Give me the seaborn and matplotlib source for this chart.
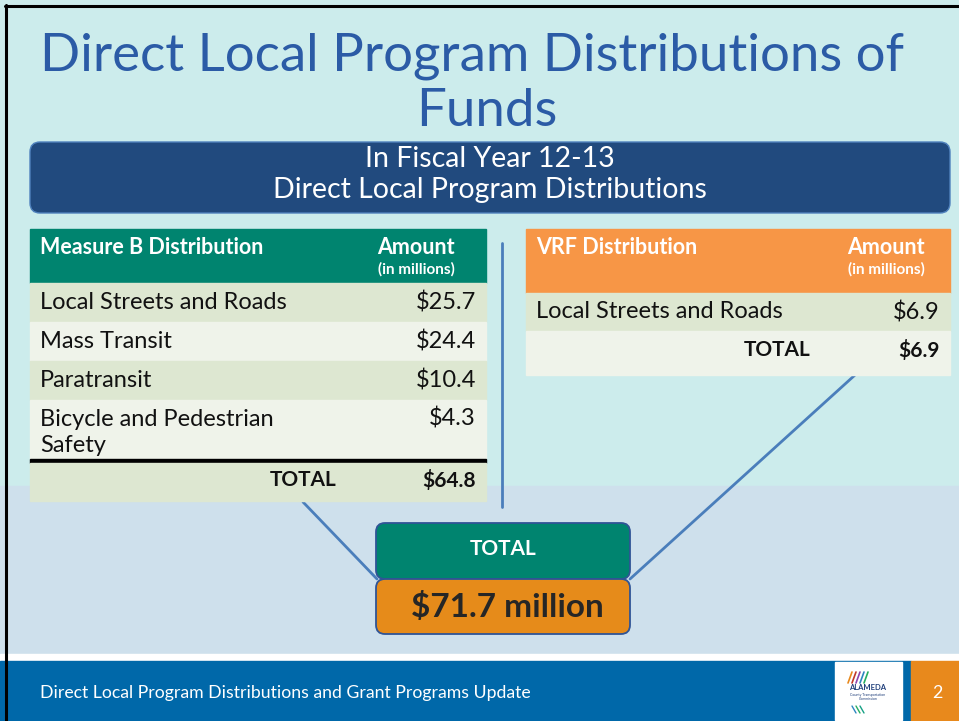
import matplotlib
matplotlib.use("Agg")
import matplotlib.pyplot as plt
import seaborn as sns
from matplotlib.patches import Rectangle, FancyBboxPatch

# slide data
title_lines = ["Direct Local Program Distributions of", "Funds"]
subtitle = ["In Fiscal Year 12-13", "Direct Local Program Distributions"]

mb_items = ["Local Streets and Roads", "Mass Transit", "Paratransit",
            "Bicycle and Pedestrian\nSafety"]
mb_amounts = [25.7, 24.4, 10.4, 4.3]

vrf_items = ["Local Streets and Roads"]
vrf_amounts = [6.9]

footer = "Direct Local Program Distributions and Grant Programs Update"
page_no = "2"

mb_total = sum(mb_amounts)
vrf_total = sum(vrf_amounts)
grand_total = mb_total + vrf_total

sns.set_theme(style="white")
plt.rcParams["font.family"] = ["Lato", "DejaVu Sans"]

TEAL = "#00846F"
ORANGE = "#F79646"
ROW_A = "#DDE7D1"
ROW_B = "#EFF3EA"
LINE = "#4A7EBB"
INK = "#111111"

fig = plt.figure(figsize=(9.59, 7.21), dpi=100)
ax = fig.add_axes([0, 0, 1, 1])
ax.set_xlim(0, 959)
ax.set_ylim(721, 0)
ax.axis("off")

# backgrounds
ax.add_patch(Rectangle((0, 0), 959, 486, color="#CCECEC", zorder=0))
ax.add_patch(Rectangle((0, 486), 959, 168, color="#CEE0EC", zorder=0))
ax.add_patch(Rectangle((0, 654), 959, 7, color="white", zorder=0))
ax.add_patch(Rectangle((0, 661), 911, 60, color="#0068A9", zorder=0))
ax.add_patch(Rectangle((911, 661), 48, 60, color="#E8891C", zorder=0))
ax.plot([6, 6], [5, 721], color="black", lw=2.2, zorder=5)
ax.plot([5, 959], [6, 6], color="black", lw=2.2, zorder=5)

# title
ax.text(472, 56, title_lines[0], ha="center", va="center", fontsize=38,
        color="#2B5BA6")
ax.text(487, 111, title_lines[1], ha="center", va="center", fontsize=38,
        color="#2B5BA6")

# subtitle bar
ax.add_patch(FancyBboxPatch((30, 142), 920, 71,
                            boxstyle="round,pad=0,rounding_size=10",
                            fc="#214A7E", ec="#4F81BD", lw=1, zorder=1))
ax.text(490, 159, subtitle[0], ha="center", va="center", fontsize=20.5,
        color="white")
ax.text(490, 190, subtitle[1], ha="center", va="center", fontsize=20.5,
        color="white")

# connector lines
ax.plot([502, 502], [243, 507], color=LINE, lw=2, zorder=1)
ax.plot([303, 377], [502, 579], color=LINE, lw=2, zorder=1)
ax.plot([630, 855], [579, 375], color=LINE, lw=2, zorder=1)


def fmt(v):
    return f"${v:.1f}"


def header(x0, x1, h, label, amt_x, color):
    ax.add_patch(Rectangle((x0, 229), x1 - x0, h, color=color, zorder=2))
    ax.text(x0 + 10, 248, label, ha="left", va="center",
            fontsize=15.5, fontweight="bold", color="white", zorder=3)
    ax.text(amt_x, 248, "Amount", ha="center", va="center",
            fontsize=15.5, fontweight="bold", color="white", zorder=3)
    ax.text(amt_x, 269, "(in millions)", ha="center", va="center",
            fontsize=11, fontweight="bold", color="white", zorder=3)


# Measure B table
lx0, lx1 = 30, 486
header(lx0, lx1, 54, "Measure B Distribution", 416, TEAL)

row_edges = [283, 322, 361, 400, 459]
for i, (name, val) in enumerate(zip(mb_items, mb_amounts)):
    top, bot = row_edges[i], row_edges[i + 1]
    ax.add_patch(Rectangle((lx0, top), lx1 - lx0, bot - top,
                           color=ROW_A if i % 2 == 0 else ROW_B, zorder=2))
    parts = name.split("\n")
    if len(parts) > 1:
        for j, p in enumerate(parts):
            ax.text(40, top + 19 + 26 * j, p, ha="left", va="center",
                    fontsize=17, color=INK, zorder=3)
        ax.text(476, top + 19, fmt(val), ha="right", va="center", fontsize=17,
                color=INK, zorder=3)
    else:
        mid = (top + bot) / 2
        ax.text(40, mid, name, ha="left", va="center", fontsize=17,
                color=INK, zorder=3)
        ax.text(476, mid, fmt(val), ha="right", va="center", fontsize=17,
                color=INK, zorder=3)
ax.add_patch(Rectangle((lx0, 459), lx1 - lx0, 4, color="black", zorder=2))
ax.add_patch(Rectangle((lx0, 463), lx1 - lx0, 38, color=ROW_A, zorder=2))
ax.text(337, 480, "TOTAL", ha="right", va="center", fontsize=15,
        fontweight="bold", color=INK, zorder=3)
ax.text(476, 480, fmt(mb_total), ha="right", va="center", fontsize=15,
        fontweight="bold", color=INK, zorder=3)

# VRF table
rx0, rx1 = 526, 950
header(rx0, rx1, 64, "VRF Distribution", 886, ORANGE)
ax.add_patch(Rectangle((rx0, 293), rx1 - rx0, 38, color=ROW_A, zorder=2))
ax.text(536, 312, vrf_items[0], ha="left", va="center", fontsize=17,
        color=INK, zorder=3)
ax.text(940, 312, fmt(vrf_amounts[0]), ha="right", va="center", fontsize=17,
        color=INK, zorder=3)
ax.add_patch(Rectangle((rx0, 331), rx1 - rx0, 44, color=ROW_B, zorder=2))
ax.text(811, 350, "TOTAL", ha="right", va="center", fontsize=15,
        fontweight="bold", color=INK, zorder=3)
ax.text(940, 350, fmt(vrf_total), ha="right", va="center", fontsize=15,
        fontweight="bold", color=INK, zorder=3)

# grand total boxes
ax.add_patch(FancyBboxPatch((376, 523), 254, 56,
                            boxstyle="round,pad=0,rounding_size=9",
                            fc=TEAL, ec="#2F5496", lw=1.3, zorder=2))
ax.text(503, 549, "TOTAL", ha="center", va="center", fontsize=15,
        fontweight="bold", color="white", zorder=3)
ax.add_patch(FancyBboxPatch((376, 579), 254, 55,
                            boxstyle="round,pad=0,rounding_size=9",
                            fc="#E68B1A", ec="#2F5496", lw=1.3, zorder=2))
ax.text(507, 607, f"${grand_total:.1f} million", ha="center", va="center",
        fontsize=24, fontweight="bold", color="#262626", zorder=3)

# footer
ax.text(40, 693, footer, ha="left", va="center", fontsize=12.7, color="white")
ax.text(937, 693, page_no, ha="center", va="center", fontsize=13, color="white")
ax.add_patch(Rectangle((835, 662), 67, 58, color="white", zorder=1))
arc_cols = ["#E8891C", "#C0392B", "#8E44AD", "#2E86C1", "#27AE60"]
for k, c in enumerate(arc_cols):
    ax.plot([848 + k * 4, 852 + k * 4], [683, 672], color=c, lw=1.2, zorder=2)
ax.text(868, 688, "ALAMEDA", ha="center", va="center", fontsize=5.5,
        fontweight="bold", color="#1F3E7A", zorder=2)
ax.text(868, 697, "County Transportation\nCommission", ha="center", va="center",
        fontsize=2.5, color="#1F3E7A", zorder=2)
for k, c in enumerate(["#2E86C1", "#27AE60", "#16A085"]):
    ax.plot([852 + k * 4, 856 + k * 4], [706, 713], color=c, lw=1, zorder=2)

fig.savefig("out.png", dpi=100)
